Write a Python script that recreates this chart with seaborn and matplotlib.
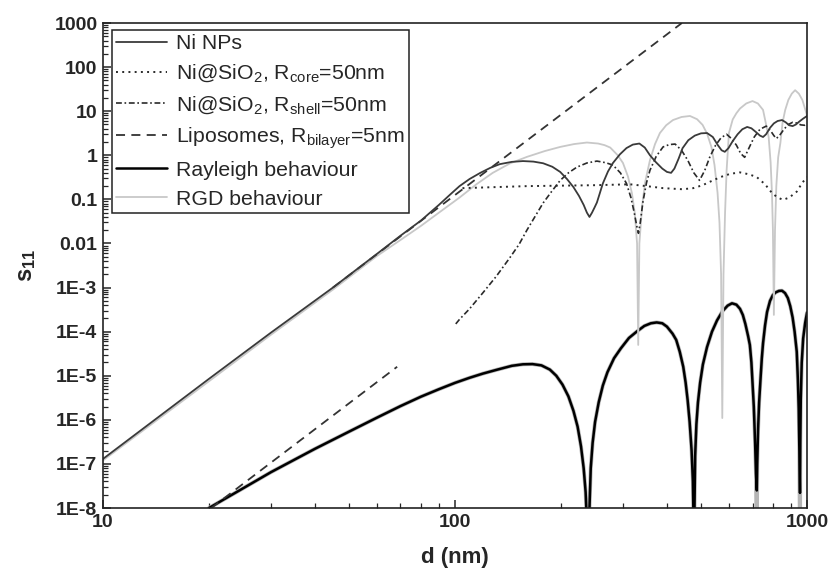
import matplotlib
matplotlib.use("Agg")
import matplotlib.pyplot as plt
import seaborn as sns
from matplotlib.ticker import FixedLocator, FixedFormatter, LogLocator, NullFormatter

# ---------------- data ----------------
ni_x = [10, 20, 30, 45, 60, 70, 80, 90, 97, 103, 110, 118, 126, 134, 145, 156, 167, 178, 189,
        199, 208, 217, 225, 232, 237, 241, 245, 249, 253, 258, 263, 272, 281, 294, 307, 320,
        334, 346, 358, 372, 388, 400, 411, 420, 432, 443, 460, 480, 500, 520, 540, 558, 572,
        584, 598, 615, 635, 655, 676, 695, 715, 735, 750, 765, 785, 805, 825, 849, 870, 890,
        910, 930, 950, 975, 1000]
ni_y = [1.3e-7, 8.5e-6, 9.5e-5, 1.0e-3, 5.8e-3, 1.5e-2, 3.3e-2, 7.5e-2, 0.13, 0.2, 0.29, 0.40,
        0.52, 0.63, 0.71, 0.74, 0.72, 0.66, 0.55, 0.42, 0.29, 0.19, 0.12, 0.075, 0.05, 0.04,
        0.05, 0.065, 0.085, 0.14, 0.23, 0.43, 0.67, 1.05, 1.46, 1.75, 1.85, 1.5, 1.0, 0.7, 0.5,
        0.42, 0.40, 0.5, 0.85, 1.45, 2.2, 2.8, 3.15, 3.2, 2.6, 1.7, 1.3, 1.2, 1.45, 2.1, 3.0,
        3.9, 4.4, 4.1, 3.4, 2.8, 2.6, 3.0, 4.2, 5.3, 6.0, 6.3, 5.6, 4.8, 4.6, 5.0, 5.8, 6.8, 7.8]

rgd_x = [10, 20, 30, 45, 60, 70, 80, 90, 103, 115, 128, 143, 160, 180, 199, 218, 237, 255, 266,
         276, 290, 300, 310, 318, 324, 329, 331.5, 334, 340, 347, 358, 370, 382, 398, 416, 440,
         465, 487, 505, 520, 535, 546, 557, 564, 570, 574.5, 579, 585, 591, 600, 615, 630, 645,
         672, 700, 725, 750, 765, 778, 788, 795, 800, 805, 811, 818, 828, 840, 852, 867, 885,
         905, 925, 948, 970, 985, 1000]
rgd_y = [1.2e-7, 7.5e-6, 8.5e-5, 9e-4, 5.2e-3, 1.2e-2, 2.5e-2, 0.05, 0.11, 0.22, 0.40, 0.65,
         0.92, 1.25, 1.55, 1.8, 1.95, 1.85, 1.7, 1.5, 1.0, 0.67, 0.33, 0.14, 0.05, 0.01, 5e-5,
         0.01, 0.07, 0.25, 0.78, 1.8, 3.2, 4.8, 6.3, 7.4, 7.8, 6.6, 4.9, 3.1, 1.55, 0.6, 0.14,
         0.03, 2e-3, 1.1e-6, 2e-3, 0.05, 0.46, 3.2, 6.5, 9.0, 11.5, 15, 17, 15, 10.7, 5.0, 2.6,
         0.7, 0.14, 0.02, 2.4e-4, 0.02, 0.2, 0.9, 1.9, 5.5, 10.7, 18, 25, 30, 25, 18, 12, 8]

core_x = [105, 130, 160, 200, 250, 314, 350, 390, 443, 475, 505, 535, 567, 605, 645, 685, 720,
          760, 795, 825, 855, 890, 935, 970, 1000]
core_y = [0.18, 0.19, 0.20, 0.205, 0.21, 0.22, 0.2, 0.18, 0.17, 0.18, 0.21, 0.26, 0.32, 0.38,
          0.41, 0.37, 0.32, 0.22, 0.14, 0.11, 0.098, 0.11, 0.15, 0.24, 0.32]

shell_x = [100.5, 103, 110, 120, 131, 143, 152, 160, 170, 178, 188, 199, 210, 222, 237, 253,
           268, 281, 295, 307, 316, 323, 329, 332, 336, 342, 350, 358, 373, 390, 406, 422, 440,
           458, 477, 495, 512, 529, 550, 570, 591, 610, 630, 648, 665, 685, 708, 735, 766, 790,
           805, 818, 835, 860, 885, 910, 935, 960, 985, 1000]
shell_y = [1.5e-4, 1.9e-4, 3.3e-4, 7.6e-4, 1.8e-3, 4.7e-3, 9.5e-3, 0.02, 0.045, 0.083, 0.15,
           0.27, 0.40, 0.54, 0.67, 0.74, 0.68, 0.6, 0.4, 0.23, 0.11, 0.05, 0.023, 0.017, 0.03,
           0.09, 0.24, 0.46, 0.95, 1.55, 1.75, 1.8, 1.3, 0.78, 0.4, 0.27, 0.45, 0.9, 1.7, 2.5,
           3.0, 2.4, 1.7, 1.1, 0.9, 1.5, 2.6, 3.9, 4.6, 3.5, 2.8, 2.4, 2.8, 3.9, 5.0, 5.6, 5.4,
           4.9, 4.8, 5.0]

lipo_ray_x = [45, 441]
lipo_ray_y = [1.0e-3, 1000]
lipo_short_x = [20.3, 68.5]
lipo_short_y = [1.0e-8, 1.6e-5]

low_x = [20, 25, 30, 35, 40, 50, 60, 70, 80, 90, 100, 110, 120, 132, 145, 156, 166, 176,
         186, 194, 202, 210, 217, 223, 228, 232, 235, 237.5, 239.5,
         241, 243, 246, 250, 256, 263, 271, 283, 296, 312, 328, 345, 360, 374, 388, 400, 415,
         425, 435, 445, 452, 458, 464, 470, 474, 477.5,
         479, 481, 485, 490, 497, 506, 520, 537, 555, 575, 595, 612, 630, 645, 657, 668, 680,
         688, 695, 700, 706, 712, 716, 720,
         722, 726, 731, 737, 744, 750, 760, 770, 785, 800, 815, 832, 849, 866, 882, 896, 910,
         922, 935, 942, 947, 951, 955,
         957, 960, 966, 975, 988, 1000]
low_black_y = [1.0e-8, 2.8e-8, 6.5e-8, 1.25e-7, 2.2e-7, 5.4e-7, 1.12e-6, 2.05e-6, 3.35e-6,
               4.95e-6, 6.9e-6, 9.0e-6, 1.12e-5, 1.38e-5, 1.68e-5, 1.82e-5, 1.84e-5, 1.72e-5,
               1.38e-5, 1.0e-5, 6.3e-6, 3.4e-6, 1.6e-6, 7e-7, 2.5e-7, 8e-8, 2.3e-8, 3e-9, 1e-9,
               1e-8, 8e-8, 3e-7, 9e-7, 2.5e-6, 6e-6, 1.2e-5, 2.5e-5, 4.2e-5, 7.2e-5, 1.0e-4,
               1.35e-4, 1.55e-4, 1.62e-4, 1.55e-4, 1.3e-4, 9e-5, 6.5e-5, 3.5e-5, 1.6e-5, 7e-6,
               2.8e-6, 9e-7, 2e-7, 4e-8, 1e-9,
               1e-8, 1.5e-7, 8e-7, 2.5e-6, 7e-6, 1.8e-5, 4.5e-5, 1.0e-4, 1.8e-4, 2.9e-4, 3.9e-4,
               4.4e-4, 4.1e-4, 3.3e-4, 2.4e-4, 1.5e-4, 8e-5, 5e-5, 2e-5, 7e-6, 2e-6, 3e-7, 6e-8,
               2.5e-8,
               1e-7, 6e-7, 2.5e-6, 7.5e-6, 2.5e-5, 5.5e-5, 1.4e-4, 2.8e-4, 5e-4, 6.8e-4, 7.8e-4,
               8.4e-4, 8.5e-4, 7.5e-4, 5.8e-4, 3.8e-4, 2.1e-4, 1.0e-4, 3.5e-5, 8e-6, 1.8e-6,
               2e-7, 2.2e-8,
               3e-7, 3e-6, 2e-5, 7e-5, 1.6e-4, 2.7e-4]
low_gray_y = [1.0e-8, 2.8e-8, 6.5e-8, 1.25e-7, 2.2e-7, 5.4e-7, 1.12e-6, 2.05e-6, 3.35e-6,
              4.95e-6, 6.9e-6, 9.0e-6, 1.12e-5, 1.38e-5, 1.68e-5, 1.82e-5, 1.84e-5, 1.72e-5,
              1.38e-5, 1.0e-5, 6.3e-6, 3.4e-6, 1.6e-6, 7e-7, 2.5e-7, 8e-8, 2.3e-8, 3e-9, 1e-9,
              1e-8, 8e-8, 3e-7, 9e-7, 2.5e-6, 6e-6, 1.2e-5, 2.5e-5, 4.2e-5, 7.2e-5, 1.0e-4,
              1.35e-4, 1.55e-4, 1.62e-4, 1.55e-4, 1.3e-4, 9e-5, 6.5e-5, 3.5e-5, 1.6e-5, 7e-6,
              2.8e-6, 9e-7, 2e-7, 4e-8, 1e-9,
              1e-8, 1.5e-7, 8e-7, 2.5e-6, 7e-6, 1.8e-5, 4.5e-5, 1.0e-4, 1.8e-4, 2.9e-4, 3.9e-4,
              4.4e-4, 4.1e-4, 3.3e-4, 2.4e-4, 1.5e-4, 8e-5, 5e-5, 2e-5, 7e-6, 2e-6, 3e-7, 6e-8,
              1e-9,
              1e-7, 6e-7, 2.5e-6, 7.5e-6, 2.5e-5, 5.5e-5, 1.4e-4, 2.8e-4, 5e-4, 6.8e-4, 7.8e-4,
              8.4e-4, 8.5e-4, 7.5e-4, 5.8e-4, 3.8e-4, 2.1e-4, 1.0e-4, 3.5e-5, 8e-6, 1.8e-6,
              2e-7, 1e-9,
              3e-7, 3e-6, 2e-5, 7e-5, 1.6e-4, 2.7e-4]

x_ticks = [10, 100, 1000]
x_ticklabels = ["10", "100", "1000"]
y_ticks = [1e-8, 1e-7, 1e-6, 1e-5, 1e-4, 1e-3, 1e-2, 1e-1, 1, 10, 100, 1000]
y_ticklabels = ["1E-8", "1E-7", "1E-6", "1E-5", "1E-4", "1E-3", "0.01", "0.1", "1", "10",
                "100", "1000"]

legend_labels = ["Ni NPs",
                 r"Ni@SiO$_2$, R$_\mathrm{core}$=50nm",
                 r"Ni@SiO$_2$, R$_\mathrm{shell}$=50nm",
                 r"Liposomes, R$_\mathrm{bilayer}$=5nm",
                 "Rayleigh behaviour",
                 "RGD behaviour"]

# ---------------- style ----------------
sns.set_style("ticks")
plt.rcParams["font.family"] = ["Liberation Sans", "DejaVu Sans"]
plt.rcParams["mathtext.fontset"] = "custom"
plt.rcParams["mathtext.rm"] = "Liberation Sans"
plt.rcParams["mathtext.it"] = "Liberation Sans:italic"
plt.rcParams["mathtext.bf"] = "Liberation Sans:bold"

fig, ax = plt.subplots(figsize=(8.29, 5.76), dpi=100)
fig.subplots_adjust(left=0.1242, right=0.9735, top=0.960, bottom=0.118)
ax.set_xscale("log")
ax.set_yscale("log")

common = dict(ax=ax, estimator=None, sort=False)
sns.lineplot(x=low_x, y=low_gray_y, color="#b5b5b5", lw=2.8, label="_g", **common)
sns.lineplot(x=low_x, y=low_black_y, color="black", lw=1.8, label=legend_labels[4], **common)
sns.lineplot(x=rgd_x, y=rgd_y, color="#c8c8c8", lw=1.3, label=legend_labels[5], **common)
sns.lineplot(x=core_x, y=core_y, color="#2a2a2a", lw=1.4, linestyle=(0, (1, 2.2)),
             label=legend_labels[1], **common)
sns.lineplot(x=shell_x, y=shell_y, color="#2a2a2a", lw=1.2, linestyle=(0, (3.5, 1.6, 1, 1.6)),
             label=legend_labels[2], **common)
sns.lineplot(x=lipo_ray_x, y=lipo_ray_y, color="#333333", lw=1.3, linestyle=(0, (5, 3.5)),
             label=legend_labels[3], **common)
sns.lineplot(x=lipo_short_x, y=lipo_short_y, color="#333333", lw=1.3, linestyle=(0, (5, 3.5)),
             label="_s", **common)
sns.lineplot(x=ni_x, y=ni_y, color="#3a3a3a", lw=1.3, label=legend_labels[0], **common)

ax.set_xlim(10, 1000)
ax.set_ylim(1e-8, 1000)

ax.xaxis.set_major_locator(FixedLocator(x_ticks))
ax.xaxis.set_major_formatter(FixedFormatter(x_ticklabels))
ax.xaxis.set_minor_locator(LogLocator(base=10, subs=range(2, 10)))
ax.xaxis.set_minor_formatter(NullFormatter())
ax.yaxis.set_major_locator(FixedLocator(y_ticks))
ax.yaxis.set_major_formatter(FixedFormatter(y_ticklabels))
ax.yaxis.set_minor_locator(LogLocator(base=10, subs=range(2, 10), numticks=20))
ax.yaxis.set_minor_formatter(NullFormatter())

ax.tick_params(axis="both", which="major", direction="in", length=6, width=1.1,
               labelsize=14, pad=4, top=False, right=False)
ax.tick_params(axis="both", which="minor", direction="in", length=3.5, width=0.9,
               top=False, right=False)
for lab in ax.get_xticklabels() + ax.get_yticklabels():
    lab.set_fontweight("bold")
for sp in ax.spines.values():
    sp.set_visible(True)
    sp.set_linewidth(1.2)
    sp.set_color("#222222")

ax.set_xlabel("d (nm)", fontsize=16, fontweight="bold", labelpad=12)
ax.set_ylabel(r"$\mathbf{s_{11}}$", fontsize=17, labelpad=12)

handles, labels = ax.get_legend_handles_labels()
hmap = dict(zip(labels, handles))
leg = ax.legend([hmap[l] for l in legend_labels], legend_labels, loc="upper left",
                bbox_to_anchor=(0.0128, 0.986), borderaxespad=0, fontsize=15.3,
                frameon=True, fancybox=False, edgecolor="#222222", framealpha=1,
                handlelength=2.4, handletextpad=0.4, labelspacing=0.46, borderpad=0.2)
leg.get_frame().set_linewidth(1.1)

fig.savefig("out.png", dpi=100)
